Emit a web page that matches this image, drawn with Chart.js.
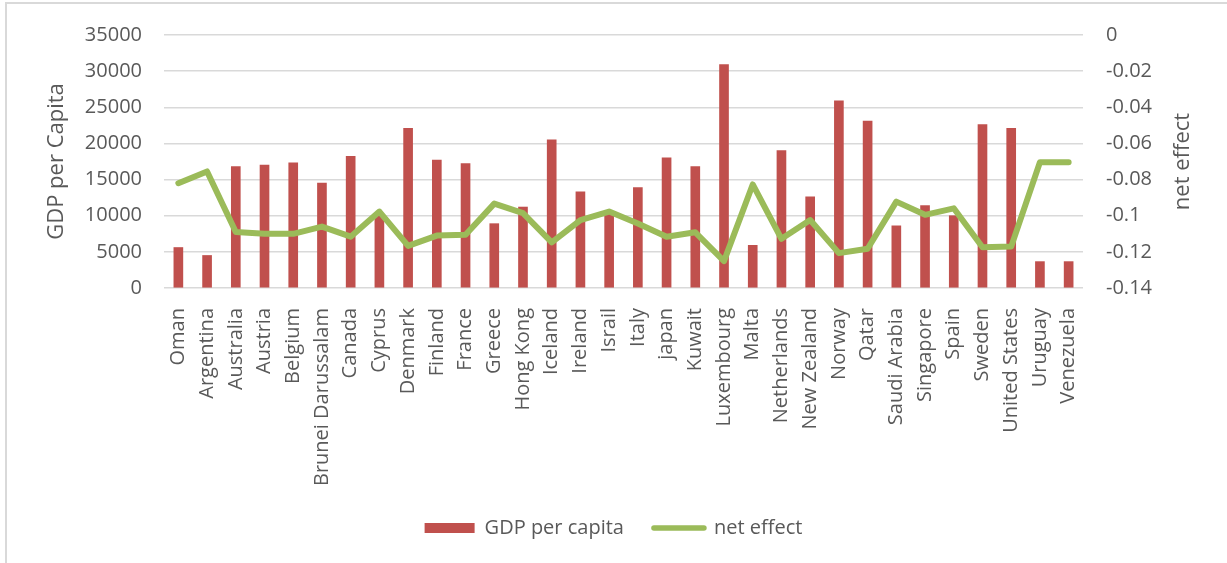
<!DOCTYPE html>
<html><head><meta charset="utf-8">
<script src="https://cdn.jsdelivr.net/npm/chart.js@4"></script>
<style>html,body{margin:0;padding:0;background:#fff;overflow:hidden}#wrap{width:1227px;height:563px;position:relative}</style>
</head><body><div id="wrap"><canvas id="c" width="1227" height="563"></canvas></div>
<script>
const categories = ['Oman','Argentina','Australia','Austria','Belgium','Brunei Darussalam','Canada','Cyprus','Denmark','Finland','France','Greece','Hong Kong','Iceland','Ireland','Israil','Italy','japan','Kuwait','Luxembourg','Malta','Netherlands','New Zealand','Norway','Qatar','Saudi Arabia','Singapore','Spain','Sweden','United States','Uruguay','Venezuela'];
const gdpPerCapita = [5600,4500,16800,17000,17300,14500,18200,10000,22100,17700,17200,8900,11200,20500,13300,10400,13900,18000,16800,30900,5900,19000,12600,25900,23100,8600,11400,10000,22600,22100,3650,3650];
const netEffect = [-0.082,-0.0755,-0.109,-0.110,-0.110,-0.106,-0.1116,-0.0977,-0.1167,-0.111,-0.1105,-0.0933,-0.0986,-0.1147,-0.1024,-0.0977,-0.1043,-0.1116,-0.1092,-0.1251,-0.0827,-0.1128,-0.1024,-0.1207,-0.1183,-0.0922,-0.0995,-0.0959,-0.1174,-0.1171,-0.0704,-0.0704];
const gdpTicks = [0,5000,10000,15000,20000,25000,30000,35000];
const netTicks = [-0.14,-0.12,-0.1,-0.08,-0.06,-0.04,-0.02,0];
const seriesNames = ['GDP per capita','net effect'];
const axisTitles = ['GDP per Capita','net effect'];

const FONT = "'Open Sans', 'DejaVu Sans', sans-serif";
const TXT = '#595959';

const decor = {
  id: 'decor',
  afterDraw(chart) {
    const ctx = chart.ctx;
    ctx.save();
    ctx.fillStyle = '#D9D9D9';
    ctx.fillRect(5, 2, 2, 561);
    ctx.fillRect(5, 2, 1222, 2);
    ctx.fillStyle = TXT;
    ctx.font = "22px " + FONT;
    ctx.textAlign = 'center';
    ctx.textBaseline = 'middle';
    const yc = (chart.chartArea.top + chart.chartArea.bottom) / 2;
    ctx.translate(57, yc);
    ctx.rotate(-Math.PI / 2);
    ctx.fillText(axisTitles[0], 0, 0);
    ctx.restore();
    ctx.save();
    ctx.fillStyle = TXT;
    ctx.font = "22px " + FONT;
    ctx.textAlign = 'center';
    ctx.textBaseline = 'middle';
    ctx.translate(1183, yc);
    ctx.rotate(-Math.PI / 2);
    ctx.fillText(axisTitles[1], 0, 0);
    ctx.restore();
  }
};

new Chart(document.getElementById('c'), {
  type: 'bar',
  data: {
    labels: categories,
    datasets: [
      { type: 'bar', label: seriesNames[0], data: gdpPerCapita, backgroundColor: '#C0504D', borderWidth: 0, barThickness: 9, yAxisID: 'y', order: 1 },
      { type: 'line', label: seriesNames[1], data: netEffect, borderColor: '#9BBB59', backgroundColor: '#9BBB59', borderWidth: 6, tension: 0, pointRadius: 0, borderJoinStyle: 'round', borderCapStyle: 'round', yAxisID: 'y1', order: 0 }
    ]
  },
  options: {
    responsive: false,
    animation: false,
    devicePixelRatio: 1,
    layout: { padding: { top: 28, bottom: 15, left: 0, right: 0 } },
    plugins: {
      tooltip: { enabled: false },
      legend: {
        position: 'bottom',
        labels: {
          usePointStyle: true,
          pointStyleWidth: 50,
          boxHeight: 10,
          color: TXT,
          font: { family: FONT, size: 20 },
          padding: 30,
          sort: (a, b) => a.datasetIndex - b.datasetIndex,
          generateLabels(chart) {
            const items = Chart.defaults.plugins.legend.labels.generateLabels(chart);
            items.forEach(it => {
              if (it.datasetIndex === 0) { it.pointStyle = 'rect'; it.lineWidth = 0; }
              else { it.pointStyle = 'line'; it.lineWidth = 5.5; it.lineCap = 'round'; it.strokeStyle = '#9BBB59'; }
            });
            return items;
          }
        }
      }
    },
    scales: {
      x: {
        grid: { display: false },
        border: { display: false },
        ticks: { minRotation: 90, maxRotation: 90, autoSkip: false, padding: 12, color: TXT, font: { family: FONT, size: 20 } },
        afterFit(s) { s.height = 200; }
      },
      y: {
        position: 'left',
        min: 0, max: 35000,
        afterBuildTicks(s) { s.ticks = gdpTicks.map(v => ({ value: v })); },
        grid: { color: '#D9D9D9', lineWidth: 1.5, drawTicks: false },
        border: { display: false },
        ticks: { padding: 22, color: TXT, font: { family: FONT, size: 20 }, callback: v => String(v) },
        afterFit(s) { s.width = 164; }
      },
      y1: {
        position: 'right',
        min: -0.14, max: 0,
        afterBuildTicks(s) { s.ticks = netTicks.map(v => ({ value: v })); },
        grid: { display: false, drawTicks: false },
        border: { display: false },
        ticks: { padding: 23, color: TXT, font: { family: FONT, size: 20 }, callback: v => String(Math.round(v * 100) / 100) },
        afterFit(s) { s.width = 144; }
      }
    }
  },
  plugins: [decor]
});
</script></body></html>
